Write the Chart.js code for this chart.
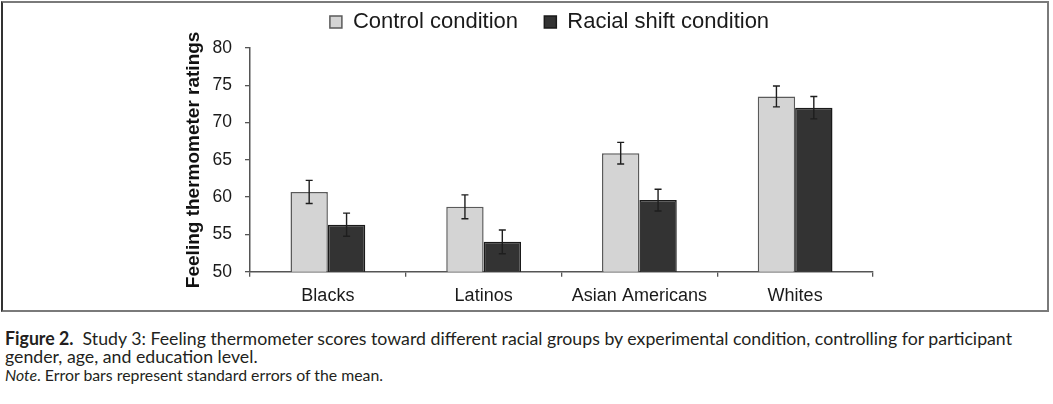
<!DOCTYPE html>
<html><head><meta charset="utf-8">
<script src="https://cdn.jsdelivr.net/npm/chart.js@4.4.1/dist/chart.umd.min.js"></script>
<style>
html,body{margin:0;padding:0;background:#fff;width:1053px;height:404px;overflow:hidden;}
#frame{position:absolute;left:1px;top:1px;width:1044px;height:307px;border:2px solid #7a7a7a;border-left-color:#333;}
#wrap{position:absolute;left:165px;top:3px;width:769px;height:300px;}
.cap{position:absolute;left:5px;white-space:nowrap;font-family:Lato,sans-serif;color:#231f20;transform-origin:0 0;}
#l1,#l2{font-size:18px;line-height:18px;}
#l3{font-size:15px;line-height:15px;}
</style></head>
<body>
<div id="frame"></div>
<div id="wrap"><canvas id="c" width="769" height="300"></canvas></div>
<div class="cap" id="l1" style="top:329px"><b>Figure 2.</b>&nbsp; Study 3: Feeling thermometer scores toward different racial groups by experimental condition, controlling for participant</div>
<div class="cap" id="l2" style="top:347px">gender, age, and education level.</div>
<div class="cap" id="l3" style="top:368px"><i>Note</i>. Error bars represent standard errors of the mean.</div>
<script>
const categories = ['Blacks', 'Latinos', 'Asian Americans', 'Whites'];
const seriesNames = ['Control condition', 'Racial shift condition'];
const controlMeans = [60.7, 58.7, 65.9, 73.5];
const controlSE = [1.55, 1.6, 1.45, 1.4];
const shiftMeans = [56.3, 54.0, 59.6, 72.0];
const shiftSE = [1.55, 1.6, 1.45, 1.5];
const yTicks = [50, 55, 60, 65, 70, 75, 80];

const FONT = "'Liberation Sans', Arial, sans-serif";
const TXT = '#1a1a1a';

const errorBars = {
  id: 'errorBars',
  afterDatasetsDraw(chart) {
    const ctx = chart.ctx, y = chart.scales.y;
    ctx.save();
    ctx.strokeStyle = '#1e1e1e';
    ctx.lineWidth = 1.4;
    chart.data.datasets.forEach((ds, di) => {
      const meta = chart.getDatasetMeta(di);
      meta.data.forEach((bar, i) => {
        const v = ds.data[i], e = ds.errors[i];
        const yt = y.getPixelForValue(v + e), yb = y.getPixelForValue(v - e);
        const x = bar.x, h = 3.5;
        ctx.beginPath();
        ctx.moveTo(x, yt); ctx.lineTo(x, yb);
        ctx.moveTo(x - h, yt); ctx.lineTo(x + h, yt);
        ctx.moveTo(x - h, yb); ctx.lineTo(x + h, yb);
        ctx.stroke();
      });
    });
    ctx.restore();
  }
};

const legendFit = {
  id: 'legendFit',
  beforeUpdate(chart) {
    const lg = chart.legend;
    if (lg && !lg._pf) {
      const f = lg.fit;
      lg.fit = function () { f.call(this); this.height = 45; };
      lg._pf = true;
    }
  },
  afterLayout(chart) {
    const lg = chart.legend;
    if (lg) { lg.right = chart.width; lg.width = lg.right - lg.left; }
  }
};

new Chart(document.getElementById('c'), {
  type: 'bar',
  data: {
    labels: categories,
    datasets: [
      { label: seriesNames[0], data: controlMeans, errors: controlSE,
        backgroundColor: '#d4d4d4', borderColor: '#5a5a5a', borderWidth: 1.5, borderSkipped: false },
      { label: seriesNames[1], data: shiftMeans, errors: shiftSE,
        backgroundColor: '#333333', borderColor: '#1a1a1a', borderWidth: 1.5, borderSkipped: false }
    ]
  },
  options: {
    responsive: false,
    animation: false,
    events: [],
    layout: { padding: { left: 0, right: 61, top: 0, bottom: 0 } },
    datasets: { bar: { categoryPercentage: 0.48, barPercentage: 1.0 } },
    plugins: {
      tooltip: { enabled: false },
      legend: {
        position: 'top',
        labels: {
          font: { family: FONT, size: 22 },
          color: TXT,
          boxWidth: 12,
          boxHeight: 12,
          padding: 8,
          generateLabels(chart) {
            const items = Chart.defaults.plugins.legend.labels.generateLabels(chart);
            items[0].text += '   ';
            return items;
          }
        }
      }
    },
    scales: {
      x: {
        grid: { display: true, drawOnChartArea: false, drawTicks: true, tickLength: 5, color: '#555', lineWidth: 1.3, offset: true },
        border: { display: true, color: '#555', width: 1.5 },
        ticks: { font: { family: FONT, size: 18 }, color: TXT, padding: 9 },
        afterFit(s) { s.height = 31.3; }
      },
      y: {
        min: 50, max: 80,
        afterBuildTicks(s) { s.ticks = yTicks.map(v => ({ value: v })); },
        grid: { display: true, drawOnChartArea: false, drawTicks: true, tickLength: 5, color: '#555', lineWidth: 1.3 },
        border: { display: true, color: '#555', width: 1.5 },
        ticks: { font: { family: FONT, size: 17.5 }, color: TXT, padding: 13 },
        title: { display: true, text: 'Feeling thermometer ratings', color: '#111',
                 font: { family: FONT, size: 19, weight: 'bold' }, padding: { top: 17, bottom: 0 } },
        afterFit(s) { s.width = 85; }
      }
    }
  },
  plugins: [errorBars, legendFit]
});

// fit caption lines to the reference widths (line 2 uses line 1's factor)
const l1 = document.getElementById('l1'), l2 = document.getElementById('l2'), l3 = document.getElementById('l3');
const k1 = 1007 / l1.getBoundingClientRect().width;
l1.style.transform = 'scaleX(' + k1 + ')';
l2.style.transform = 'scaleX(' + k1 + ')';
l3.style.transform = 'scaleX(' + (378 / l3.getBoundingClientRect().width) + ')';
</script>
</body></html>
